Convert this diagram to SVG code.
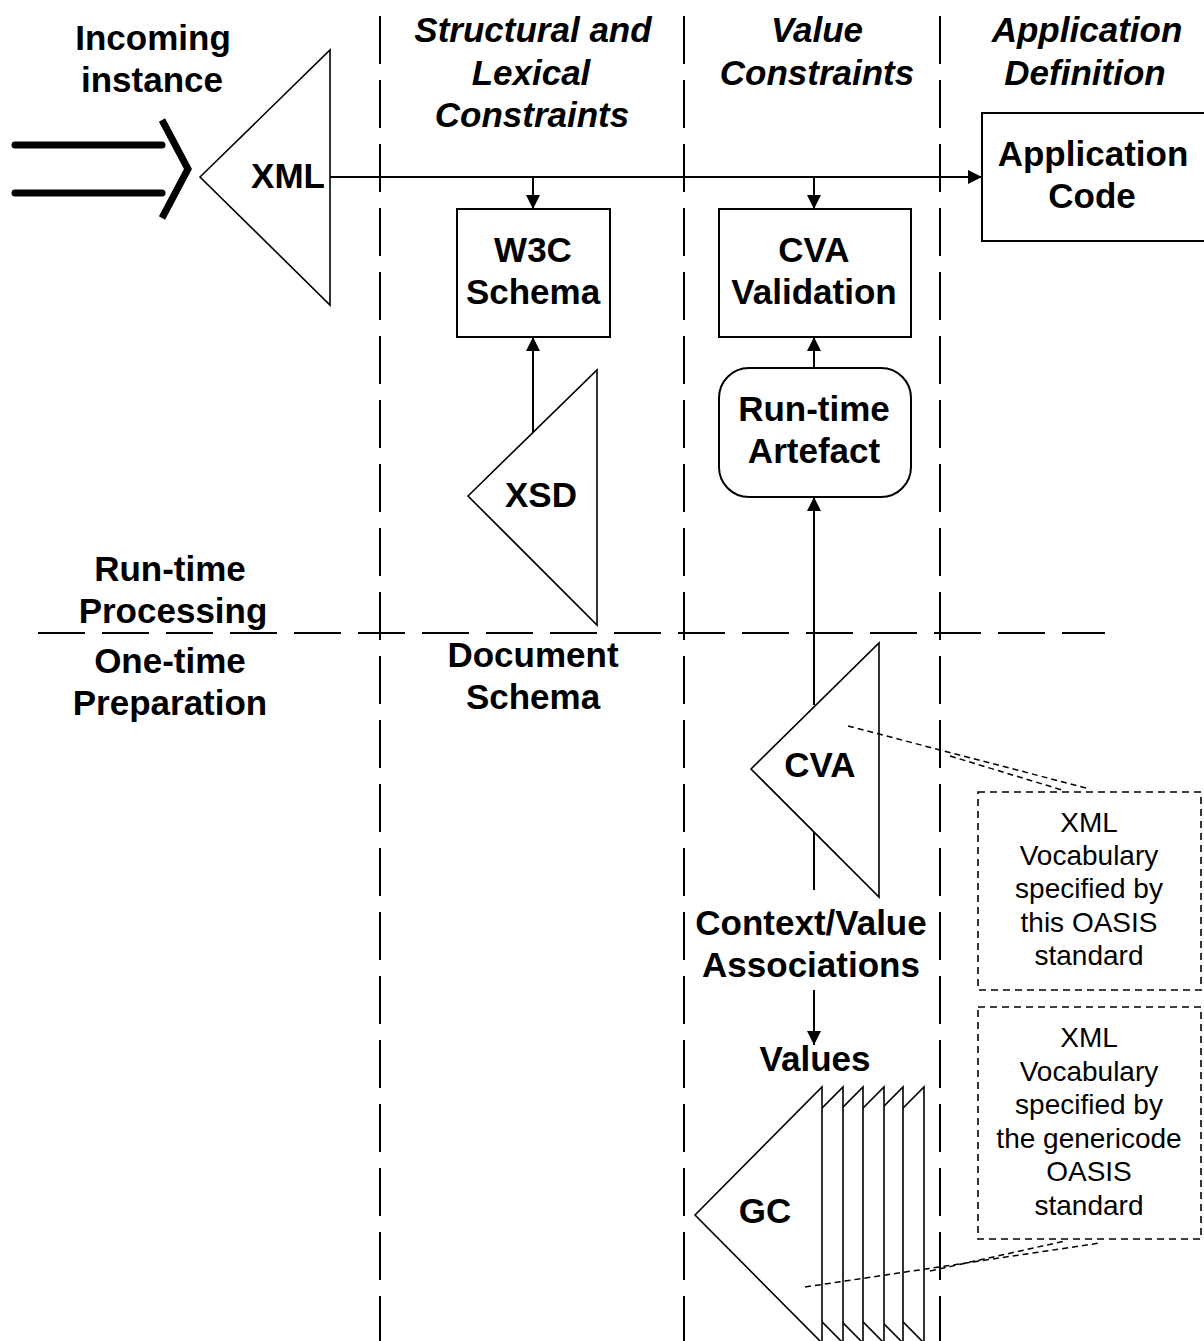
<svg xmlns="http://www.w3.org/2000/svg" width="1204" height="1341" viewBox="0 0 1204 1341">
<style>
text{font-family:"Liberation Sans",Arial,sans-serif;fill:#000;text-anchor:middle}
.b{font-size:35px;font-weight:bold}
.h{font-size:35px;font-weight:bold;font-style:italic}
.s{font-size:28px}
.lane{stroke:#000;stroke-width:2;stroke-dasharray:48 16;fill:none}
.box{fill:#fff;stroke:#000;stroke-width:2}
.tri{fill:#fff;stroke:#000;stroke-width:1.6;stroke-linejoin:miter}
.con{stroke:#000;stroke-width:2;fill:none}
.note{fill:none;stroke:#000;stroke-width:1.6;stroke-dasharray:7 5}
.dot{fill:none;stroke:#000;stroke-width:1.5;stroke-dasharray:6 4}
</style>
<defs>
<marker id="arr" viewBox="0 0 14 14" refX="14" refY="7" markerWidth="14" markerHeight="14" markerUnits="userSpaceOnUse" orient="auto">
<path d="M0,0 L14,7 L0,14 z" fill="#000"/>
</marker>
</defs>
<rect width="1204" height="1341" fill="#fff"/>

<g id="lanes">
<line class="lane" x1="380" y1="16" x2="380" y2="1341"/>
<line class="lane" x1="684" y1="16" x2="684" y2="1341"/>
<line class="lane" x1="940" y1="16" x2="940" y2="1341"/>
<line class="lane" x1="38" y1="633" x2="1105" y2="633" style="stroke-dasharray:47 17"/>
</g>

<g id="headers">
<text class="b" x="153" y="50">Incoming</text>
<text class="b" x="152" y="92">instance</text>
<text class="h" x="533" y="42">Structural and</text>
<text class="h" x="531" y="85">Lexical</text>
<text class="h" x="532" y="127">Constraints</text>
<text class="h" x="817" y="42">Value</text>
<text class="h" x="817" y="85">Constraints</text>
<text class="h" x="1087" y="42">Application</text>
<text class="h" x="1085" y="85">Definition</text>
<text class="b" x="170" y="581">Run-time</text>
<text class="b" x="173" y="623">Processing</text>
<text class="b" x="170" y="673">One-time</text>
<text class="b" x="170" y="715">Preparation</text>
<text class="b" x="533" y="667">Document</text>
<text class="b" x="533" y="709">Schema</text>
<text class="b" x="811" y="935">Context/Value</text>
<text class="b" x="811" y="977">Associations</text>
<text class="b" x="815" y="1071">Values</text>
</g>

<g id="connectors">
<line class="con" x1="330" y1="177" x2="982" y2="177" marker-end="url(#arr)"/>
<line class="con" x1="533" y1="177" x2="533" y2="209" marker-end="url(#arr)"/>
<line class="con" x1="814" y1="177" x2="814" y2="209" marker-end="url(#arr)"/>
<line class="con" x1="533" y1="433" x2="533" y2="337" marker-end="url(#arr)"/>
<line class="con" x1="814" y1="368" x2="814" y2="337" marker-end="url(#arr)"/>
<line class="con" x1="814" y1="705" x2="814" y2="497" marker-end="url(#arr)"/>
<line class="con" x1="814" y1="832" x2="814" y2="890"/>
<line class="con" x1="814" y1="990" x2="814" y2="1045" marker-end="url(#arr)"/>
</g>

<g id="incoming-arrow" fill="none" stroke="#000" stroke-width="7">
<line x1="15" y1="145" x2="162" y2="145" stroke-linecap="round"/>
<line x1="15" y1="193" x2="162" y2="193" stroke-linecap="round"/>
<polyline points="162,120 188,169 162,218" stroke-linejoin="miter"/>
</g>

<g id="xml">
<polygon class="tri" points="200,177 330,50 330,305" style="fill:none"/>
<text class="b" x="288" y="188">XML</text>
</g>

<g id="w3c-schema">
<rect class="box" x="457" y="209" width="153" height="128"/>
<text class="b" x="533" y="262">W3C</text>
<text class="b" x="533" y="304">Schema</text>
</g>

<g id="cva-validation">
<rect class="box" x="719" y="209" width="192" height="128"/>
<text class="b" x="814" y="262">CVA</text>
<text class="b" x="814" y="304">Validation</text>
</g>

<g id="application-code">
<rect class="box" x="982" y="113" width="230" height="128"/>
<text class="b" x="1093" y="166">Application</text>
<text class="b" x="1092" y="208">Code</text>
</g>

<g id="xsd">
<polygon class="tri" points="468,496 597,370 597,625"/>
<text class="b" x="541" y="507">XSD</text>
</g>

<g id="runtime-artefact">
<rect class="box" x="719" y="368" width="192" height="129" rx="30" ry="30"/>
<text class="b" x="814" y="421">Run-time</text>
<text class="b" x="814" y="463">Artefact</text>
</g>

<g id="cva">
<polygon class="tri" points="751,769 879,643 879,897"/>
<text class="b" x="820" y="777">CVA</text>
</g>

<g id="gc">
<polygon class="tri" points="797,1215 924,1087 924,1343"/>
<polygon class="tri" points="776,1215 903,1087 903,1343"/>
<polygon class="tri" points="757,1215 884,1087 884,1343"/>
<polygon class="tri" points="736,1215 863,1087 863,1343"/>
<polygon class="tri" points="716,1215 843,1087 843,1343"/>
<polygon class="tri" points="695,1215 822,1087 822,1343"/>
<text class="b" x="765" y="1223">GC</text>
</g>

<g id="note-cva">
<rect class="note" x="978" y="792" width="223" height="198"/>
<text class="s" x="1089" y="832">XML</text>
<text class="s" x="1089" y="865">Vocabulary</text>
<text class="s" x="1089" y="898">specified by</text>
<text class="s" x="1089" y="932">this OASIS</text>
<text class="s" x="1089" y="965">standard</text>
</g>

<g id="note-gc">
<rect class="note" x="978" y="1007" width="223" height="232"/>
<text class="s" x="1089" y="1047">XML</text>
<text class="s" x="1089" y="1081">Vocabulary</text>
<text class="s" x="1089" y="1114">specified by</text>
<text class="s" x="1089" y="1148">the genericode</text>
<text class="s" x="1089" y="1181">OASIS</text>
<text class="s" x="1089" y="1215">standard</text>
</g>

<g id="note-links">
<line class="dot" x1="848" y1="726" x2="1090" y2="789"/>
<line class="dot" x1="950" y1="756" x2="1062" y2="790"/>
<line class="dot" x1="805" y1="1287" x2="1100" y2="1243"/>
<line class="dot" x1="930" y1="1271" x2="1065" y2="1241"/>
</g>
</svg>
